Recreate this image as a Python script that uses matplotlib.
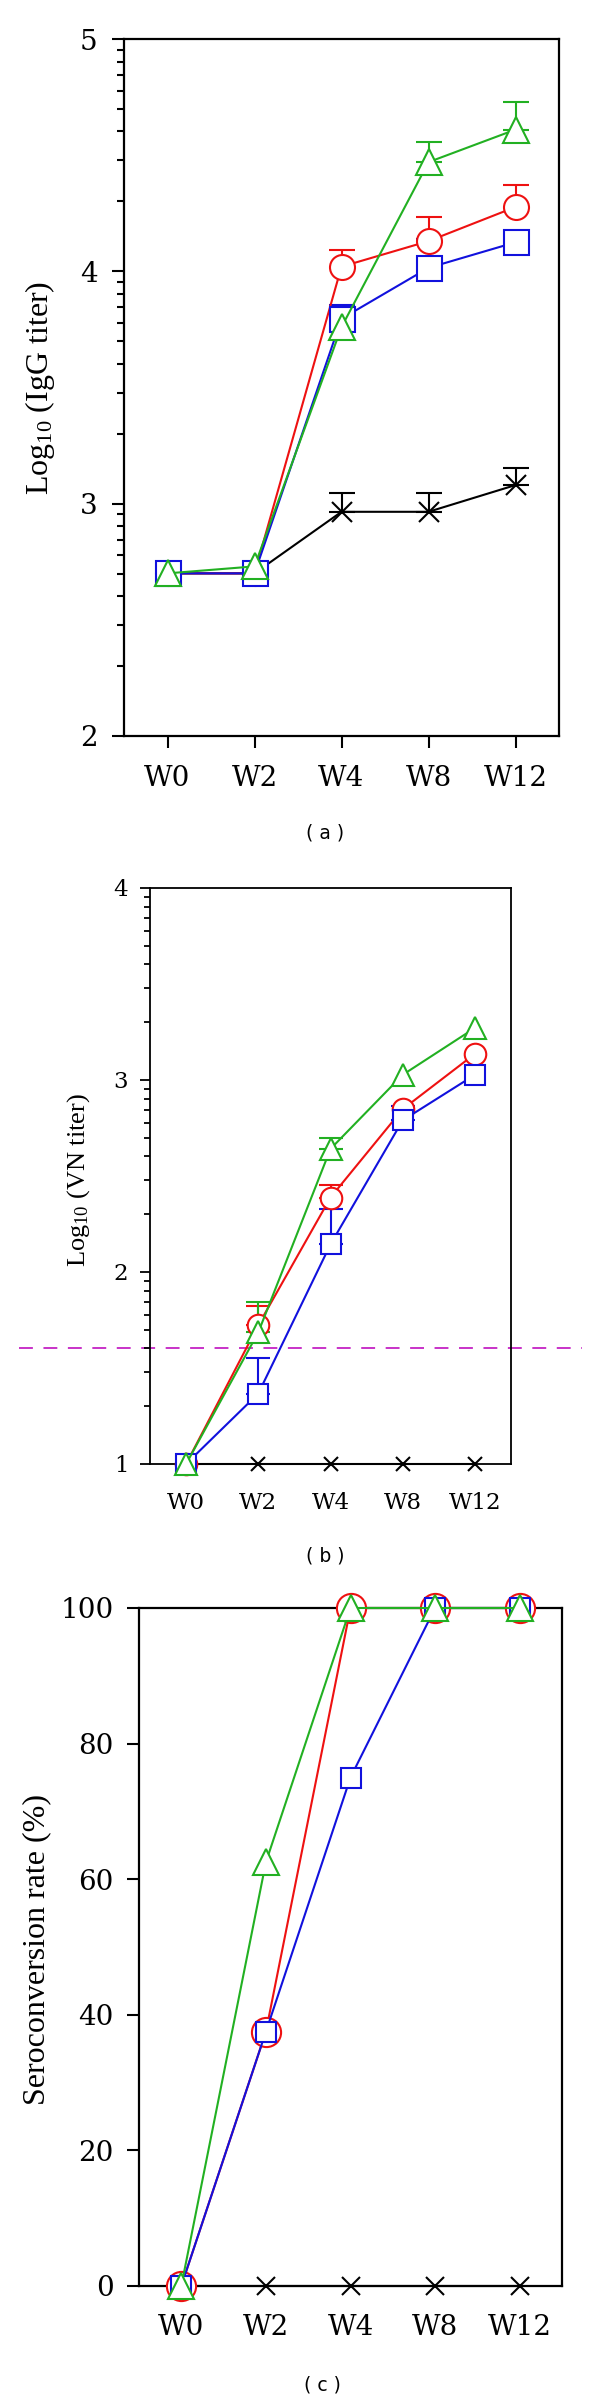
import numpy as np
import matplotlib
matplotlib.use("Agg")
import matplotlib.pyplot as plt

plt.rcParams['font.family'] = ['Liberation Serif', 'DejaVu Serif']
plt.rcParams['mathtext.fontset'] = 'custom'
plt.rcParams['mathtext.rm'] = 'Liberation Serif'
plt.rcParams['lines.scale_dashes'] = False

weeks = ['W0', 'W2', 'W4', 'W8', 'W12']

# (a) IgG titer, log10
igg_black = [2.70, 2.70, 2.965, 2.965, 3.08]
igg_black_err = [0, 0, 0.083, 0.083, 0.072]
igg_red = [2.70, 2.70, 4.02, 4.13, 4.277]
igg_red_err = [0, 0, 0.07, 0.105, 0.093]
igg_blue = [2.70, 2.70, 3.796, 4.015, 4.125]
igg_blue_err = [0, 0, 0.06, 0.125, 0]
igg_green = [2.70, 2.73, 3.76, 4.47, 4.61]
igg_green_err = [0, 0, 0, 0.085, 0.12]

# (b) VN titer, log10
vn_black = [1.0, 1.0, 1.0, 1.0, 1.0]
vn_red = [1.0, 1.723, 2.388, 2.848, 3.136]
vn_red_err = [0, 0.10, 0.067, 0, 0]
vn_blue = [1.0, 1.367, 2.144, 2.79, 3.027]
vn_blue_err = [0, 0.183, 0.186, 0.072, 0]
vn_green = [1.0, 1.686, 2.641, 3.027, 3.271]
vn_green_err = [0, 0.157, 0.059, 0, 0]
vn_cutoff = 1.602

# (c) seroconversion rate (%)
sc_black = [0, 0, 0, 0, 0]
sc_red = [0, 37.5, 100, 100, 100]
sc_blue = [0, 37.5, 75, 100, 100]
sc_green = [0, 62.5, 100, 100, 100]

red = '#ee1111'
blue = '#1111dd'
green = '#22b022'
tick_font = 'DejaVu Serif'

W, H = 600, 2402
fig = plt.figure(figsize=(W / 100, H / 100), dpi=100)


def px_axes(left, top, right, bottom):
    return fig.add_axes([left / W, (H - bottom) / H, (right - left) / W, (bottom - top) / H])


def draw(ax, y, color, marker, ms, err=None, capsize=9):
    x = np.arange(len(y))
    ax.plot(x, y, color=color, lw=1.5, marker=marker, ms=ms, mew=1.5,
            mfc='white', mec=color, clip_on=False, zorder=3)
    if err is not None:
        err = np.array(err)
        k = err > 0
        ax.errorbar(x[k], np.array(y)[k], yerr=[np.zeros(k.sum()), err[k]],
                    fmt='none', ecolor=color, elinewidth=1.5, capsize=capsize,
                    capthick=1.5, clip_on=False, zorder=2)


def style(ax, fs_x, fs_y, spine_lw=1.6):
    ax.set_xlim(-0.5, 4.5)
    ax.set_xticks(range(len(weeks)))
    ax.set_xticklabels(weeks, fontsize=fs_x, family=tick_font)
    for s in ax.spines.values():
        s.set_linewidth(spine_lw)
    ax.tick_params(axis='y', labelsize=fs_y, labelfontfamily=tick_font)


# ---------- (a)
ax = px_axes(124, 39, 559, 736)
draw(ax, igg_black, 'black', 'x', 14, igg_black_err, 9.5)
draw(ax, igg_red, red, 'o', 18, igg_red_err, 9.5)
draw(ax, igg_blue, blue, 's', 18, igg_blue_err, 9.5)
draw(ax, igg_green, green, '^', 19, igg_green_err, 9.5)
style(ax, 20, 20)
ax.set_ylim(2, 5)
ax.set_yticks([2, 3, 4, 5])
ax.set_yticks([n + np.log10(k) for n in (2, 3, 4) for k in range(2, 10)], minor=True)
ax.tick_params(axis='y', which='major', length=8.6, width=1.5, pad=10.5)
ax.tick_params(axis='y', which='minor', length=5, width=1.5)
ax.tick_params(axis='x', length=8.6, width=1.5, pad=12)
ax.set_ylabel(r'$\mathregular{Log_{10}}$ (IgG titer)', fontsize=23, va='center')
ax.yaxis.set_label_coords(-0.193, 0.5)

# ---------- (b)
ax = px_axes(150, 888, 511, 1464)
draw(ax, vn_black, 'black', 'x', 10)
draw(ax, vn_red, red, 'o', 15.5, vn_red_err, 8.5)
draw(ax, vn_blue, blue, 's', 15, vn_blue_err, 8.5)
draw(ax, vn_green, green, '^', 16, vn_green_err, 8.5)
style(ax, 16.5, 16.5, 1.3)
ax.set_ylim(1, 4)
ax.set_yticks([1, 2, 3, 4])
ax.set_yticks([n + np.log10(k) for n in (1, 2, 3) for k in range(2, 10)], minor=True)
ax.tick_params(axis='y', which='major', length=7.2, width=1.3, pad=8.5)
ax.tick_params(axis='y', which='minor', length=4.3, width=1.3)
ax.tick_params(axis='x', length=0, pad=20.5)
ax.axhline(vn_cutoff, xmin=-0.363, xmax=1.197, clip_on=False, color='#c832c8',
           lw=1.4, ls=(0, (10, 7.6)), zorder=1)
ax.set_ylabel(r'$\mathregular{Log_{10}}$ (VN titer)', fontsize=19, va='center')
ax.yaxis.set_label_coords(-0.197, 0.493)

# ---------- (c)
ax = px_axes(139, 1608, 562, 2286)
draw(ax, sc_black, 'black', 'x', 13)
draw(ax, sc_red, red, 'o', 21)
draw(ax, sc_blue, blue, 's', 15)
draw(ax, sc_green, green, '^', 19)
style(ax, 20, 20)
ax.set_ylim(0, 100)
ax.set_yticks(range(0, 101, 20))
ax.tick_params(axis='y', length=8.6, width=1.5, pad=9.5)
ax.tick_params(axis='x', length=0, pad=20.5)
ax.set_ylabel('Seroconversion rate (%)', fontsize=23, va='center')
ax.yaxis.set_label_coords(-0.241, 0.496)

# panel captions
for label, xp, yp in [('( a )', 325, 833), ('( b )', 325, 1556), ('( c )', 322, 2385)]:
    fig.text(xp / W, 1 - yp / H, label, ha='center', va='center',
             fontsize=13.5, family='DejaVu Sans')

fig.savefig('out.png', dpi=100)
